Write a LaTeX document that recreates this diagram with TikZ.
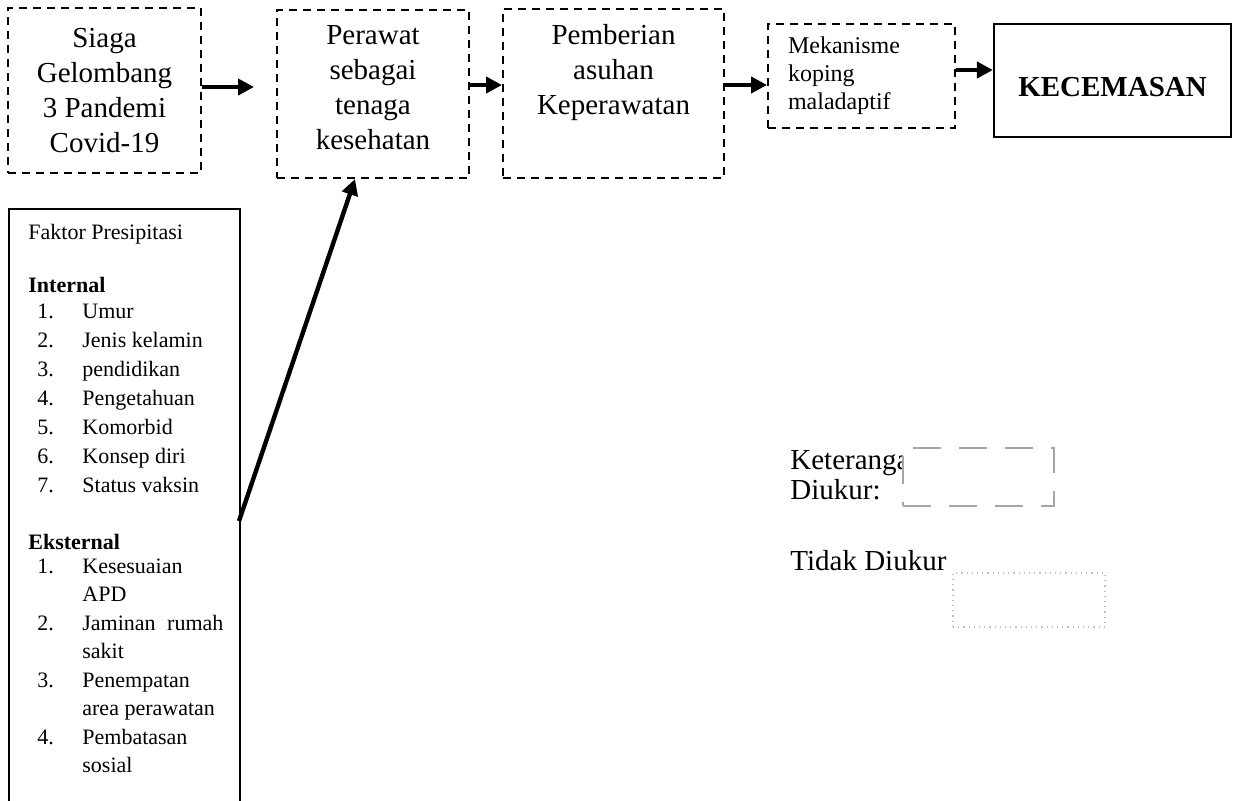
\documentclass[tikz,border=0pt]{standalone}
\usepackage{fontspec}
\setmainfont{Liberation Serif}
\usetikzlibrary{arrows.meta}

\begin{document}
\begin{tikzpicture}[x=0.5pt, y=-0.5pt,
    dashbox/.style  = {draw, dash pattern=on 4pt off 3pt, line width=1pt, inner sep=0pt, align=center},
    solidbox/.style = {draw, line width=1.1pt, inner sep=0pt},
    big/.style      = {font=\fontsize{14.5}{17.5}\selectfont},
    small/.style    = {font=\fontsize{11}{14.5}\selectfont},
    item/.style     = {small, anchor=base west, inner sep=0pt},
    arr/.style      = {-{Triangle[length=8pt,width=8pt]}, line width=2pt}]
  \useasboundingbox (0,0) rectangle (1234,800);

  \node[dashbox, big, minimum width=96.5pt, minimum height=82.5pt] (siaga) at (104.5,90.5) {Siaga\\Gelombang\\3 Pandemi\\Covid-19};
  \node[dashbox, big, minimum width=96pt, minimum height=84pt, text depth=7pt] (perawat) at (373,94) {Perawat\\sebagai\\tenaga\\kesehatan};
  \node[dashbox, big, minimum width=110.5pt, minimum height=84.5pt, text depth=24pt] (pemberian) at (613.5,93.5) {Pemberian\\asuhan\\Keperawatan};
  \node[dashbox, font=\fontsize{12}{14}\selectfont, align=left, text width=73.5pt, minimum width=93.5pt, minimum height=52pt] (mekanisme) at (861.5,76) {Mekanisme\\koping\\maladaptif};
  \node[solidbox, font=\bfseries\fontsize{14.5}{17.5}\selectfont, text height=16pt, minimum width=118.5pt, minimum height=56.5pt] (kecemasan) at (1112.5,80.5) {KECEMASAN};

  \node[solidbox, anchor=north west, minimum width=115.5pt, minimum height=301pt] (faktor) at (8,208) {};
  \node[item] (judul) at (28,239) {Faktor Presipitasi};
  \node[item, font=\bfseries\fontsize{11}{14.5}\selectfont] (internal) at (28,292) {Internal};
  \foreach \t [count=\i] in {Umur, Jenis kelamin, pendidikan, Pengetahuan, Komorbid, Konsep diri, Status vaksin} {
    \node[item] (noint\i) at (37,{289+29*\i}) {\i.};
    \node[item] (int\i) at (82,{289+29*\i}) {\t};
  }
  \node[item, font=\bfseries\fontsize{11}{14.5}\selectfont] (eksternal) at (28,549) {Eksternal};
  \foreach \t [count=\i] in {Kesesuaian\\APD, Jaminan\hspace{3pt} rumah\\sakit, Penempatan\\area perawatan, Pembatasan\\sosial} {
    \node[item] (noeks\i) at (37,{516+57*\i}) {\i.};
    \node[item, font=\fontsize{11}{14.25}\selectfont] (eks\i) at (82,{516+57*\i}) {\begin{tabular}[t]{@{}l@{}}\t\end{tabular}};
  }

  \draw[arr, shorten >=11pt] (siaga.east |- 0,87) -- (perawat.west |- 0,87);
  \draw[arr] (perawat.east |- 0,85) -- (pemberian.west |- 0,85);
  \draw[arr] (pemberian.east |- 0,85) -- (mekanisme.west |- 0,85);
  \draw[arr] (mekanisme.east |- 0,70) -- (kecemasan.west |- 0,70);
  \coordinate (ekor) at (239,521);
  \draw[arr, line width=2.2pt] (ekor) -- ([xshift=-9pt]perawat.south);

  \node[big, anchor=base west, inner sep=0pt] (keterangan) at (790,469) {Keterangan:};
  \node[big, anchor=base west, inner sep=0pt] (diukur) at (790,499) {Diukur:};
  \node[big, anchor=base west, inner sep=0pt] (tidak) at (790,570) {Tidak Diukur};
  \node[draw=gray!70, fill=white, dash pattern=on 14pt off 9pt, line width=0.6pt, minimum width=75.5pt, minimum height=29pt] (contohukur) at (978.5,477) {};
  \node[draw=gray!50, dotted, line width=0.6pt, minimum width=76pt, minimum height=27pt] (contohtidak) at (1029,600) {};
\end{tikzpicture}
\end{document}
